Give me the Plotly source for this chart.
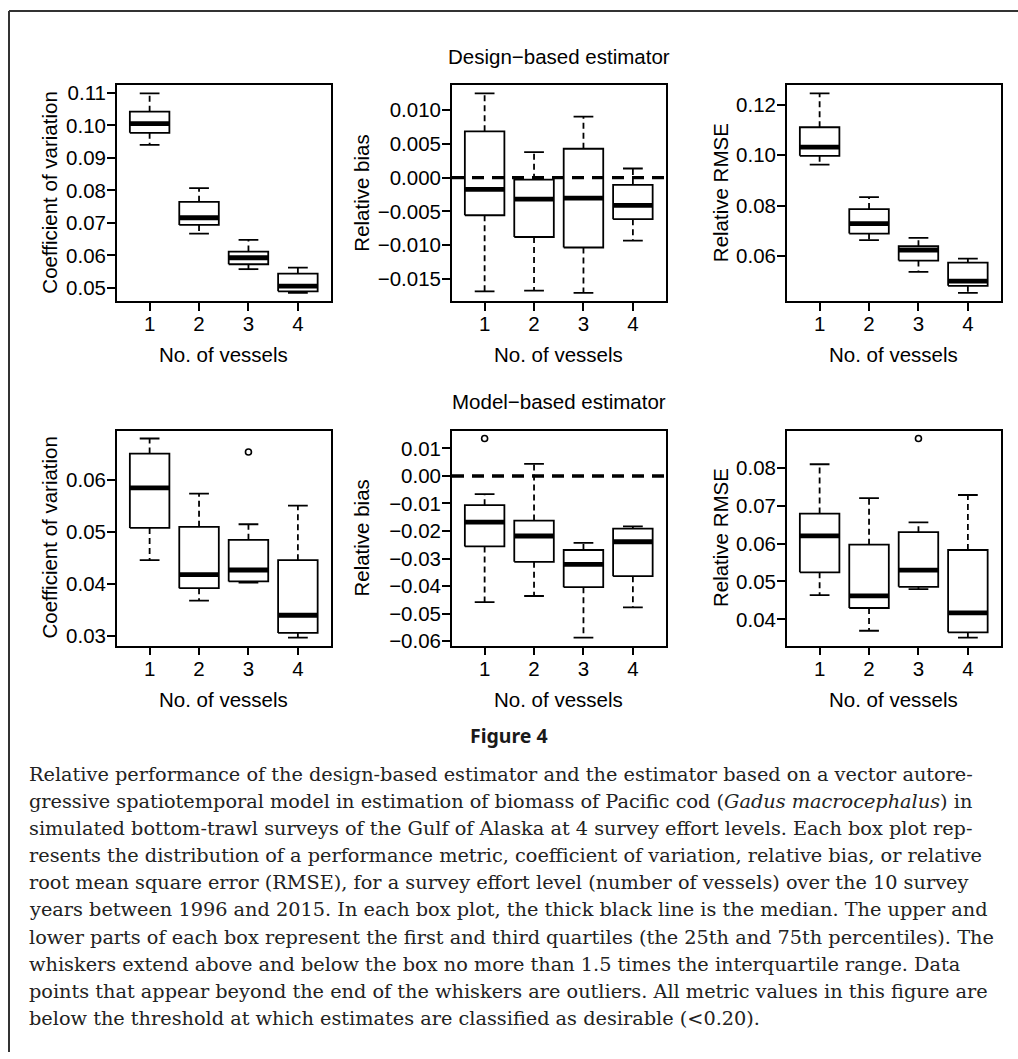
import plotly.graph_objects as go

W, H = 1018, 1059

vessels = [1, 2, 3, 4]
vessel_labels = ["1", "2", "3", "4"]

# ---------------- Design-based estimator ----------------
cv_design_low = [0.0940, 0.0667, 0.0558, 0.0485]
cv_design_q1 = [0.0977, 0.0694, 0.0573, 0.0490]
cv_design_med = [0.1005, 0.0716, 0.0593, 0.0506]
cv_design_q3 = [0.1042, 0.0765, 0.0612, 0.0544]
cv_design_high = [0.1098, 0.0807, 0.0648, 0.0563]
cv_design_out_x = []
cv_design_out_y = []

bias_design_low = [-0.01684, -0.01674, -0.01707, -0.00933]
bias_design_q1 = [-0.00557, -0.00879, -0.01035, -0.00616]
bias_design_med = [-0.00173, -0.00319, -0.00304, -0.00411]
bias_design_q3 = [0.00685, -0.00031, 0.00427, -0.00109]
bias_design_high = [0.01246, 0.00378, 0.00904, 0.00135]
bias_design_out_x = []
bias_design_out_y = []

rmse_design_low = [0.0962, 0.0663, 0.0537, 0.0454]
rmse_design_q1 = [0.0997, 0.0689, 0.0582, 0.0482]
rmse_design_med = [0.1031, 0.0728, 0.0624, 0.0501]
rmse_design_q3 = [0.1110, 0.0786, 0.0639, 0.0574]
rmse_design_high = [0.1244, 0.0833, 0.0672, 0.0590]
rmse_design_out_x = []
rmse_design_out_y = []

# ---------------- Model-based estimator ----------------
cv_model_low = [0.0445, 0.0367, 0.0402, 0.0296]
cv_model_q1 = [0.0507, 0.0391, 0.0404, 0.0305]
cv_model_med = [0.0584, 0.0417, 0.0426, 0.0339]
cv_model_q3 = [0.0650, 0.0509, 0.0484, 0.0445]
cv_model_high = [0.0679, 0.0573, 0.0514, 0.0550]
cv_model_out_x = [3]
cv_model_out_y = [0.0653]

bias_model_low = [-0.0458, -0.0436, -0.0587, -0.0477]
bias_model_q1 = [-0.0256, -0.0312, -0.0404, -0.0364]
bias_model_med = [-0.0168, -0.0218, -0.0321, -0.0239]
bias_model_q3 = [-0.0106, -0.0162, -0.0269, -0.0191]
bias_model_high = [-0.0066, 0.0044, -0.0243, -0.0183]
bias_model_out_x = [1]
bias_model_out_y = [0.0136]

rmse_model_low = [0.0464, 0.0370, 0.0480, 0.0352]
rmse_model_q1 = [0.0524, 0.0430, 0.0486, 0.0366]
rmse_model_med = [0.0620, 0.0462, 0.0530, 0.0417]
rmse_model_q3 = [0.0679, 0.0597, 0.0630, 0.0583]
rmse_model_high = [0.0809, 0.0720, 0.0656, 0.0728]
rmse_model_out_x = [3]
rmse_model_out_y = [0.0877]

# tick values
cv_design_ticks = [0.05, 0.06, 0.07, 0.08, 0.09, 0.10, 0.11]
bias_design_ticks = [-0.015, -0.010, -0.005, 0.0, 0.005, 0.010]
rmse_design_ticks = [0.06, 0.08, 0.10, 0.12]
cv_model_ticks = [0.03, 0.04, 0.05, 0.06]
bias_model_ticks = [-0.06, -0.05, -0.04, -0.03, -0.02, -0.01, 0.0, 0.01]
rmse_model_ticks = [0.04, 0.05, 0.06, 0.07, 0.08]

bias_reference = 0.0

section_titles = ["Design\u2212based estimator", "Model\u2212based estimator"]
metric_titles = ["Coefficient of variation", "Relative bias", "Relative RMSE"]
x_title = "No. of vessels"

caption_heading = "Figure 4"
caption_lines = [
    "Relative performance of the design-based estimator and the estimator based on a vector autore-",
    "gressive spatiotemporal model in estimation of biomass of Pacific cod (<i>Gadus macrocephalus</i>) in",
    "simulated bottom-trawl surveys of the Gulf of Alaska at 4 survey effort levels. Each box plot rep-",
    "resents the distribution of a performance metric, coefficient of variation, relative bias, or relative",
    "root mean square error (RMSE), for a survey effort level (number of vessels) over the 10 survey",
    "years between 1996 and 2015. In each box plot, the thick black line is the median. The upper and",
    "lower parts of each box represent the first and third quartiles (the 25th and 75th percentiles). The",
    "whiskers extend above and below the box no more than 1.5 times the interquartile range. Data",
    "points that appear beyond the end of the whiskers are outliers. All metric values in this figure are",
    "below the threshold at which estimates are classified as desirable (&lt;0.20).",
]

panels = [
    dict(lo=cv_design_low, q1=cv_design_q1, med=cv_design_med, q3=cv_design_q3, hi=cv_design_high,
         ox=cv_design_out_x, oy=cv_design_out_y, ticks=cv_design_ticks, fmt="{:.2f}",
         title=metric_titles[0], zero=False),
    dict(lo=bias_design_low, q1=bias_design_q1, med=bias_design_med, q3=bias_design_q3, hi=bias_design_high,
         ox=bias_design_out_x, oy=bias_design_out_y, ticks=bias_design_ticks, fmt="{:.3f}",
         title=metric_titles[1], zero=True),
    dict(lo=rmse_design_low, q1=rmse_design_q1, med=rmse_design_med, q3=rmse_design_q3, hi=rmse_design_high,
         ox=rmse_design_out_x, oy=rmse_design_out_y, ticks=rmse_design_ticks, fmt="{:.2f}",
         title=metric_titles[2], zero=False),
    dict(lo=cv_model_low, q1=cv_model_q1, med=cv_model_med, q3=cv_model_q3, hi=cv_model_high,
         ox=cv_model_out_x, oy=cv_model_out_y, ticks=cv_model_ticks, fmt="{:.2f}",
         title=metric_titles[0], zero=False),
    dict(lo=bias_model_low, q1=bias_model_q1, med=bias_model_med, q3=bias_model_q3, hi=bias_model_high,
         ox=bias_model_out_x, oy=bias_model_out_y, ticks=bias_model_ticks, fmt="{:.2f}",
         title=metric_titles[1], zero=True),
    dict(lo=rmse_model_low, q1=rmse_model_q1, med=rmse_model_med, q3=rmse_model_q3, hi=rmse_model_high,
         ox=rmse_model_out_x, oy=rmse_model_out_y, ticks=rmse_model_ticks, fmt="{:.2f}",
         title=metric_titles[2], zero=False),
]

# ---------------- layout geometry (pixels) ----------------
col_px = [(117, 330.5), (452, 665.5), (787, 1000.5)]
row_px = [(82.3, 300), (431, 648.3)]
ytitle_x_px = [49.5, 361.5, 720]
section_y_px = [53, 401.5]
xtitle_y_px = [354, 703]

FONT = "Liberation Sans"
FS = 20.5
BOXW = 0.4      # half box width (R boxwex 0.8)
CAPW = 0.2      # half staple width
LW = 1.8

def px_x(p):
    return p / W

def px_y(p):
    return 1 - p / H

def fmt_tick(fmt, v):
    s = fmt.format(v)
    if s.startswith("-"):
        s = "\u2212" + s[1:]
    if s.replace("\u2212", "").strip("0.") == "" and s.startswith("\u2212"):
        s = s[1:]
    return s

fig = go.Figure()
layout_axes = {}
shapes = []
annotations = []

for k, p in enumerate(panels):
    r, c = divmod(k, 3)
    xa = "x" if k == 0 else f"x{k+1}"
    ya = "y" if k == 0 else f"y{k+1}"
    xname = "xaxis" if k == 0 else f"xaxis{k+1}"
    yname = "yaxis" if k == 0 else f"yaxis{k+1}"

    bx, by, mx, my, wx, wy, cx, cy = [], [], [], [], [], [], [], []
    for i, v in enumerate(vessels):
        bx += [v - BOXW, v + BOXW, v + BOXW, v - BOXW, v - BOXW, None]
        by += [p["q1"][i], p["q1"][i], p["q3"][i], p["q3"][i], p["q1"][i], None]
        mx += [v - BOXW, v + BOXW, None]
        my += [p["med"][i], p["med"][i], None]
        wx += [v, v, None, v, v, None]
        wy += [p["q3"][i], p["hi"][i], None, p["q1"][i], p["lo"][i], None]
        cx += [v - CAPW, v + CAPW, None, v - CAPW, v + CAPW, None]
        cy += [p["hi"][i], p["hi"][i], None, p["lo"][i], p["lo"][i], None]

    common = dict(xaxis=xa, yaxis=ya, showlegend=False, hoverinfo="skip", mode="lines")
    fig.add_trace(go.Scatter(x=wx, y=wy, line=dict(color="black", width=LW, dash="6px,4px"), **common))
    fig.add_trace(go.Scatter(x=cx, y=cy, line=dict(color="black", width=LW), **common))
    fig.add_trace(go.Scatter(x=bx, y=by, line=dict(color="black", width=LW), **common))
    fig.add_trace(go.Scatter(x=mx, y=my, line=dict(color="black", width=4.8), **common))
    if p["ox"]:
        fig.add_trace(go.Scatter(x=p["ox"], y=p["oy"], xaxis=xa, yaxis=ya, mode="markers",
                                 showlegend=False, hoverinfo="skip",
                                 marker=dict(symbol="circle-open", size=6, color="black",
                                             line=dict(width=1.6, color="black"))))

    allv = p["lo"] + p["hi"] + p["oy"]
    lo, hi = min(allv), max(allv)
    pad = 0.04 * (hi - lo)
    yr = [lo - pad, hi + pad]
    xr = [0.5 - 0.04 * 4, 4.5 + 0.04 * 4]

    axis_common = dict(showline=True, mirror=True, linecolor="black", linewidth=LW,
                       ticks="outside", ticklen=8, tickwidth=LW, tickcolor="black",
                       showgrid=False, zeroline=False,
                       tickfont=dict(family=FONT, size=FS, color="black"))
    layout_axes[xname] = dict(domain=[px_x(col_px[c][0]), px_x(col_px[c][1])], anchor=ya,
                              range=xr, tickvals=vessels, ticktext=vessel_labels,
                              ticklabelstandoff=-4, **axis_common)
    layout_axes[yname] = dict(domain=[px_y(row_px[r][1]), px_y(row_px[r][0])], anchor=xa,
                              range=yr, tickvals=p["ticks"], ticklabelstandoff=-3,
                              ticktext=[fmt_tick(p["fmt"], t) for t in p["ticks"]], **axis_common)

    if p["zero"]:
        shapes.append(dict(type="line", xref=f"{xa} domain", yref=ya, x0=0, x1=1,
                           y0=bias_reference, y1=bias_reference,
                           line=dict(color="black", width=3.4, dash="12px,8px")))

    # axis titles
    annotations.append(dict(text=p["title"], textangle=-90, xref="paper", yref="paper",
                            x=px_x(ytitle_x_px[c]), y=px_y((row_px[r][0] + row_px[r][1]) / 2),
                            xanchor="center", yanchor="middle", showarrow=False,
                            font=dict(family=FONT, size=FS, color="black")))
    annotations.append(dict(text=x_title, xref="paper", yref="paper",
                            x=px_x((col_px[c][0] + col_px[c][1]) / 2), y=px_y(xtitle_y_px[r]),
                            xanchor="center", yanchor="middle", showarrow=False,
                            font=dict(family=FONT, size=FS, color="black")))

for r, t in enumerate(section_titles):
    annotations.append(dict(text=t, xref="paper", yref="paper",
                            x=px_x((col_px[1][0] + col_px[1][1]) / 2), y=px_y(section_y_px[r]),
                            xanchor="center", yanchor="middle", showarrow=False,
                            font=dict(family=FONT, size=FS, color="black")))

annotations.append(dict(text=f"<b>{caption_heading}</b>", xref="paper", yref="paper",
                        x=px_x(509), y=px_y(739), xanchor="center", yanchor="middle",
                        showarrow=False, font=dict(family="Noto Sans", size=19.5, color="#1a1a1a")))

cap_y0, cap_dy = 779, 27.3
for i, line in enumerate(caption_lines):
    annotations.append(dict(text=line, xref="paper", yref="paper",
                            x=px_x(27), y=px_y(cap_y0 + i * cap_dy), xanchor="left", yanchor="middle",
                            showarrow=False, font=dict(family="DejaVu Serif", size=19.3, color="#222")))

# outer frame (top and left rules)
shapes.append(dict(type="line", xref="paper", yref="paper", x0=px_x(9), x1=1, y0=px_y(7), y1=px_y(7),
                   line=dict(color="#333", width=2)))
shapes.append(dict(type="line", xref="paper", yref="paper", x0=px_x(9), x1=px_x(9), y0=px_y(7), y1=0,
                   line=dict(color="#333", width=2)))

fig.update_layout(width=W, height=H, autosize=False,
                  margin=dict(l=0, r=0, t=0, b=0),
                  paper_bgcolor="white", plot_bgcolor="white",
                  shapes=shapes, annotations=annotations, **layout_axes)

fig.write_html("out.html")
